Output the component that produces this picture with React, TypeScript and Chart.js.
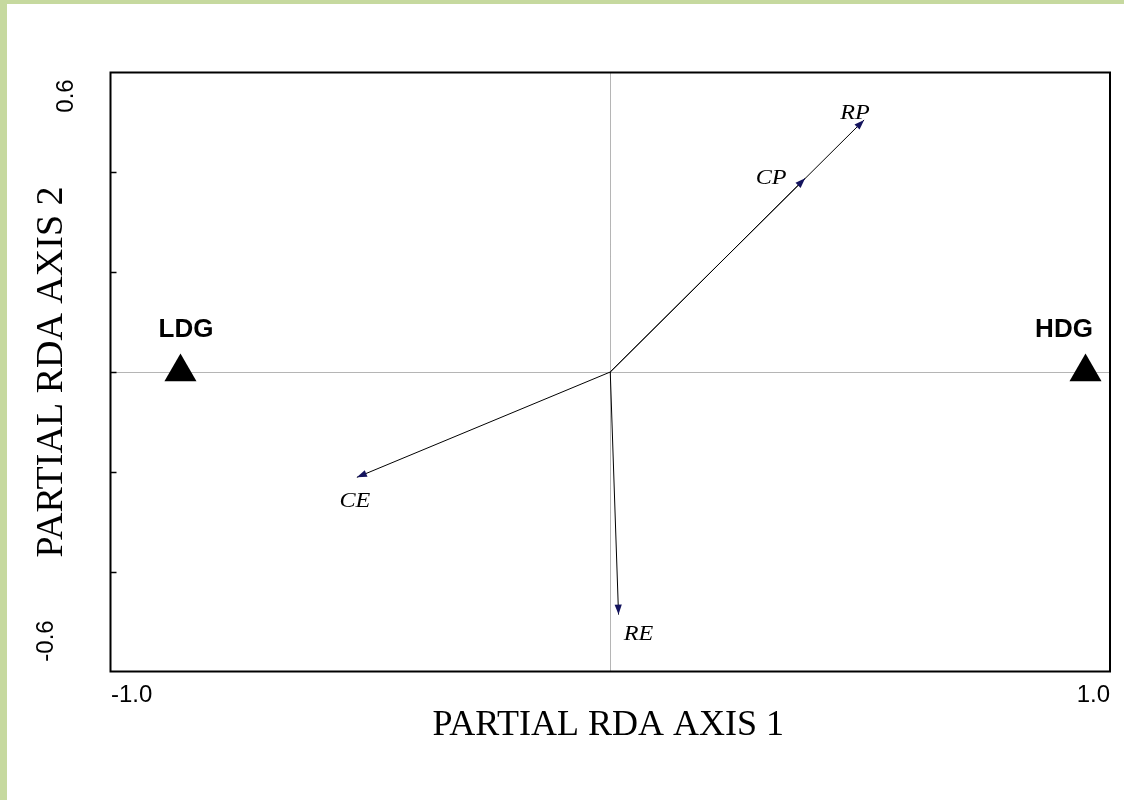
import React, { useEffect, useRef } from 'react';
import { Chart, registerables } from 'chart.js';

Chart.register(...registerables);

// ---- data ----
const arrowNames = ['RP', 'CP', 'CE', 'RE'];
const arrowX = [0.508, 0.39, -0.507, 0.0166];
const arrowY = [0.505, 0.388, -0.211, -0.486];

const groupNames = ['LDG', 'HDG'];
const groupX = [-0.86, 0.951];
const groupY = [0, 0];

const xTickValues = [-1, 1];
const xTickLabels = ['-1.0', '1.0'];
const yTickValues = [0.6, -0.6];
const yTickLabels = ['0.6', '-0.6'];
const yMinorTickValues = [-0.4, -0.2, 0, 0.2, 0.4];

const xTitle = 'PARTIAL RDA AXIS 1';
const yTitle = 'PARTIAL RDA AXIS 2';

// ---- styles (pixel offsets for labels) ----
const arrowLabelOffsets: [number, number][] = [
  [-9, -1],
  [-34, 6],
  [-2, 30],
  [20, 25],
];
const groupLabelOffsets: [number, number][] = [
  [5.5, -35],
  [-21.5, -35],
];
const GREEN = '#c6d99f';
const HEAD = '#14145e';

const overlayPlugin = {
  id: 'overlay',
  beforeDatasetsDraw(chart: any) {
    const { ctx, chartArea, scales } = chart;
    const xs = scales.x;
    const ys = scales.y;
    ctx.save();
    ctx.strokeStyle = '#6a6a6a';
    ctx.lineWidth = 1;
    ctx.setLineDash([1, 1]);
    const x0 = Math.round(xs.getPixelForValue(0)) + 0.5;
    const y0 = Math.round(ys.getPixelForValue(0)) + 0.5;
    ctx.beginPath();
    ctx.moveTo(x0, chartArea.top);
    ctx.lineTo(x0, chartArea.bottom);
    ctx.moveTo(chartArea.left, y0);
    ctx.lineTo(chartArea.right, y0);
    ctx.stroke();
    ctx.setLineDash([]);
    ctx.restore();
  },
  afterDatasetsDraw(chart: any) {
    const { ctx, chartArea, scales } = chart;
    const xs = scales.x;
    const ys = scales.y;
    ctx.save();

    // frame
    ctx.strokeStyle = '#000';
    ctx.lineWidth = 2;
    ctx.strokeRect(chartArea.left, chartArea.top, chartArea.right - chartArea.left, chartArea.bottom - chartArea.top);

    // minor y ticks (inside)
    ctx.lineWidth = 1.5;
    yMinorTickValues.forEach((v) => {
      const py = Math.round(ys.getPixelForValue(v)) + 0.5;
      ctx.beginPath();
      ctx.moveTo(chartArea.left, py);
      ctx.lineTo(chartArea.left + 6, py);
      ctx.stroke();
    });

    // arrowheads + labels
    const ox = xs.getPixelForValue(0);
    const oy = ys.getPixelForValue(0);
    arrowNames.forEach((name, i) => {
      const tx = xs.getPixelForValue(arrowX[i]);
      const ty = ys.getPixelForValue(arrowY[i]);
      const ang = Math.atan2(ty - oy, tx - ox);
      const len = 10;
      const hw = 3.6;
      const bx = tx - Math.cos(ang) * len;
      const by = ty - Math.sin(ang) * len;
      ctx.fillStyle = HEAD;
      ctx.beginPath();
      ctx.moveTo(tx, ty);
      ctx.lineTo(bx + Math.sin(ang) * hw, by - Math.cos(ang) * hw);
      ctx.lineTo(bx - Math.sin(ang) * hw, by + Math.cos(ang) * hw);
      ctx.closePath();
      ctx.fill();

      ctx.save();
      ctx.fillStyle = '#000';
      ctx.font = 'italic 21px "Liberation Serif", "Times New Roman", serif';
      ctx.textAlign = 'center';
      ctx.textBaseline = 'alphabetic';
      ctx.translate(tx + arrowLabelOffsets[i][0], ty + arrowLabelOffsets[i][1]);
      ctx.scale(1.15, 1);
      ctx.fillText(name, 0, 0);
      ctx.restore();
    });

    // group labels
    ctx.font = 'bold 26px "Liberation Sans", Arial, sans-serif';
    ctx.textAlign = 'center';
    ctx.fillStyle = '#000';
    groupNames.forEach((name, i) => {
      const px = xs.getPixelForValue(groupX[i]);
      const py = ys.getPixelForValue(groupY[i]);
      ctx.fillText(name, px + groupLabelOffsets[i][0], py + groupLabelOffsets[i][1]);
    });

    // x tick labels
    ctx.font = '24px "Liberation Sans", Arial, sans-serif';
    xTickValues.forEach((v, i) => {
      const px = xs.getPixelForValue(v);
      ctx.textAlign = i === 0 ? 'left' : 'right';
      ctx.fillText(xTickLabels[i], px + (i === 0 ? 0.5 : 0), chartArea.bottom + 30.5);
    });

    // y tick labels (rotated)
    const yLabelBaselines = [chartArea.left - 37.5, chartArea.left - 57.5];
    const yLabelShift = [23.5, -30.5];
    yTickValues.forEach((v, i) => {
      const py = ys.getPixelForValue(v) + yLabelShift[i];
      ctx.save();
      ctx.translate(yLabelBaselines[i], py);
      ctx.rotate(-Math.PI / 2);
      ctx.textAlign = 'center';
      ctx.fillText(yTickLabels[i], 0, 0);
      ctx.restore();
    });

    // axis titles
    ctx.font = '36px "Liberation Serif", "Times New Roman", serif';
    ctx.textAlign = 'center';
    ctx.fillText(xTitle, (chartArea.left + chartArea.right) / 2 - 2, chartArea.bottom + 63.5);
    ctx.font = '38px "Liberation Serif", "Times New Roman", serif';
    ctx.save();
    ctx.translate(chartArea.left - 48.5, (chartArea.top + chartArea.bottom) / 2);
    ctx.rotate(-Math.PI / 2);
    ctx.fillText(yTitle, 0, 0);
    ctx.restore();

    ctx.restore();
  },
};

export default function App() {
  const canvasRef = useRef<HTMLCanvasElement | null>(null);

  useEffect(() => {
    if (!canvasRef.current) return;
    const arrowDatasets = arrowNames.map((name, i) => ({
      type: 'line' as const,
      label: name,
      data: [
        { x: 0, y: 0 },
        { x: arrowX[i], y: arrowY[i] },
      ],
      borderColor: '#000',
      borderWidth: 1,
      pointRadius: 0,
      fill: false,
      tension: 0,
    }));
    const groupDataset = {
      type: 'scatter' as const,
      label: 'groups',
      data: groupX.map((x, i) => ({ x, y: groupY[i] })),
      pointStyle: 'triangle',
      pointRadius: 18.5,
      backgroundColor: '#000',
      borderColor: '#000',
      borderWidth: 0,
    };
    const chart = new Chart(canvasRef.current, {
      type: 'scatter',
      data: { datasets: [...arrowDatasets, groupDataset] as any },
      options: {
        animation: false,
        responsive: true,
        maintainAspectRatio: false,
        devicePixelRatio: 1,
        layout: { autoPadding: false, padding: { left: 103.5, top: 68.5, right: 7, bottom: 124.5 } },
        plugins: { legend: { display: false }, tooltip: { enabled: false } },
        scales: {
          x: { type: 'linear', min: -1, max: 1, display: false },
          y: { type: 'linear', min: -0.6, max: 0.6, display: false },
        },
      },
      plugins: [overlayPlugin],
    });
    return () => chart.destroy();
  }, []);

  return (
    <div
      style={{
        width: 1124,
        height: 800,
        boxSizing: 'border-box',
        borderLeft: `7px solid ${GREEN}`,
        borderTop: `4px solid ${GREEN}`,
        background: '#fff',
        position: 'absolute',
        left: 0,
        top: 0,
        overflow: 'hidden',
      }}
    >
      <style>{'body{margin:0;}'}</style>
      <div style={{ position: 'relative', width: 1110, height: 792 }}>
        <canvas ref={canvasRef} />
      </div>
    </div>
  );
}
